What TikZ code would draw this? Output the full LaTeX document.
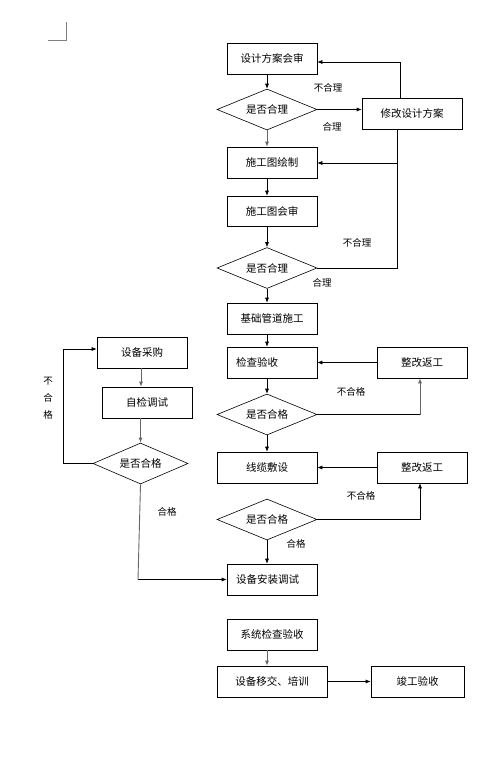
\documentclass[tikz,border=0pt]{standalone}
\usepackage{fontspec}
\setmainfont{Noto Sans CJK SC}
\usetikzlibrary{shapes.geometric,arrows.meta}
\begin{document}
\begin{tikzpicture}[x=1pt,y=-1pt,
  every node/.style={font=\fontsize{10}{12}\selectfont},
  box/.style={draw,line width=0.6pt,rectangle,minimum width=90pt,minimum height=31pt,inner sep=0pt,font=\fontsize{10.5}{12}\selectfont},
  lbox/.style={box,text width=72pt,align=left},
  dia/.style={draw,line width=0.6pt,diamond,aspect=2.4,minimum width=100pt,minimum height=41pt,inner sep=0pt,font=\fontsize{10.5}{12}\selectfont},
  lab/.style={inner sep=0pt,font=\fontsize{9.5}{11}\selectfont},
  conn/.style={line width=0.6pt},
  arr/.style={conn,-{Latex[length=5pt,width=4pt]}},
  garr/.style={arr,draw=black!60,line width=0.9pt},
  gconn/.style={conn,draw=black!60,line width=0.9pt}
]
\useasboundingbox (0,0) rectangle (503,761);
% corner mark
\draw[black!50,line width=0.6pt] (66,22) -- (66,40) -- (48,40);

% right column
\node[box] (b1) at (272,58.5) {设计方案会审};
\node[dia] (d1) at (267,109.5) {是否合理};
\node[box,minimum width=100pt] (xg) at (412,113.5) {修改设计方案};
\node[box] (b2) at (272,162.5) {施工图绘制};
\node[box,minimum height=30pt] (b3) at (272,211) {施工图会审};
\node[dia] (d2) at (267,268) {是否合理};
\node[box] (b4) at (272,318.5) {基础管道施工};
\node[lbox] (b5) at (272,362.5) {检查验收};
\node[box] (zg1) at (422,362.5) {整改返工};
\node[dia] (d3) at (267,414.5) {是否合格};
\node[box,minimum width=100pt] (b6) at (267,467.5) {线缆敷设};
\node[box] (zg2) at (422,467.5) {整改返工};
\node[dia] (d4) at (267,519.5) {是否合格};
\node[lbox] (b7) at (272,579.5) {设备安装调试};
\node[box] (b8) at (272,634.5) {系统检查验收};
\node[box,minimum width=110pt] (b9) at (272,681.5) {设备移交、培训};
\node[box,minimum width=93pt] (b10) at (417.5,681.5) {竣工验收};

% left column
\node[box] (L1) at (142,352.5) {设备采购};
\node[box] (L2) at (147,402.5) {自检调试};
\node[dia,minimum width=95pt] (dL) at (140.5,463.5) {是否合格};

% coordinates
\coordinate (c1) at (400,62);
\coordinate (c2) at (397,163);
\coordinate (c3) at (397,268);
\coordinate (c4) at (420,414.5);
\coordinate (c5) at (420,519.5);
\coordinate (c6) at (63,463.5);
\coordinate (c7) at (63,349);
\coordinate (c8) at (138,579.5);

% main vertical arrows
\draw[arr] (d1.north |- b1.south) -- (d1.north);
\draw[garr] (d1.south) -- (d1.south |- b2.north);
\draw[arr] (d1.south |- b2.south) -- (d1.south |- b3.north);
\draw[arr] (d2.north |- b3.south) -- (d2.north);
\draw[arr] (d2.south) -- (d2.south |- b4.north);
\draw[arr] (d2.south |- b4.south) -- (d2.south |- b5.north);
\draw[arr] (d3.north |- b5.south) -- (d3.north);
\draw[arr] (d3.south) -- (d3.south |- b6.north);
\draw[arr] (d4.south) -- (d4.south |- b7.north);
\draw[garr] (d4.south |- b8.south) -- (d4.south |- b9.north);
\draw[arr] (b9.east |- b10.west) -- (b10.west);

% design feedback loop
\draw[arr] (d1.east) -- (xg.west |- d1.east);
\draw[arr] (xg.north -| c1) -- (c1) -- (b1.east |- c1);
\draw[conn] (xg.south -| c2) -- (c3) -- (d2.east);
\draw[arr] (c2) -- (b2.east |- c2);

% rework loops
\draw[arr] (zg1.west) -- (b5.east);
\draw[conn] (d3.east) -- (c4);
\draw[garr] (c4) -- (c4 |- zg1.south);
\draw[arr] (zg2.west) -- (b6.east);
\draw[arr] (d4.east) -- (c5) -- (c5 |- zg2.south);

% left column connectors
\draw[garr] (L1.south -| 141,0) -- (141,0 |- L2.north);
\draw[garr] (L2.south -| dL.north) -- (dL.north);
\draw[arr] (dL.west) -- (c6) -- (c7) -- (L1.west |- c7);
\draw[gconn] (dL.south) -- (c8);
\draw[arr] (c8) -- (b7.west |- c8);

% labels
\node[lab] (t1) at (328,88) {不合理};
\node[lab] (t2) at (332,127) {合理};
\node[lab] (t3) at (357,243) {不合理};
\node[lab] (t4) at (322,283) {合理};
\node[lab] (t5) at (351,392) {不合格};
\node[lab] (t6) at (361,496) {不合格};
\node[lab] (t7) at (296,544) {合格};
\node[lab] (t8) at (167,512) {合格};
\node[lab,align=center,font=\fontsize{9.5}{17}\selectfont] (t9) at (48,398) {不\\合\\格};
\end{tikzpicture}
\end{document}
